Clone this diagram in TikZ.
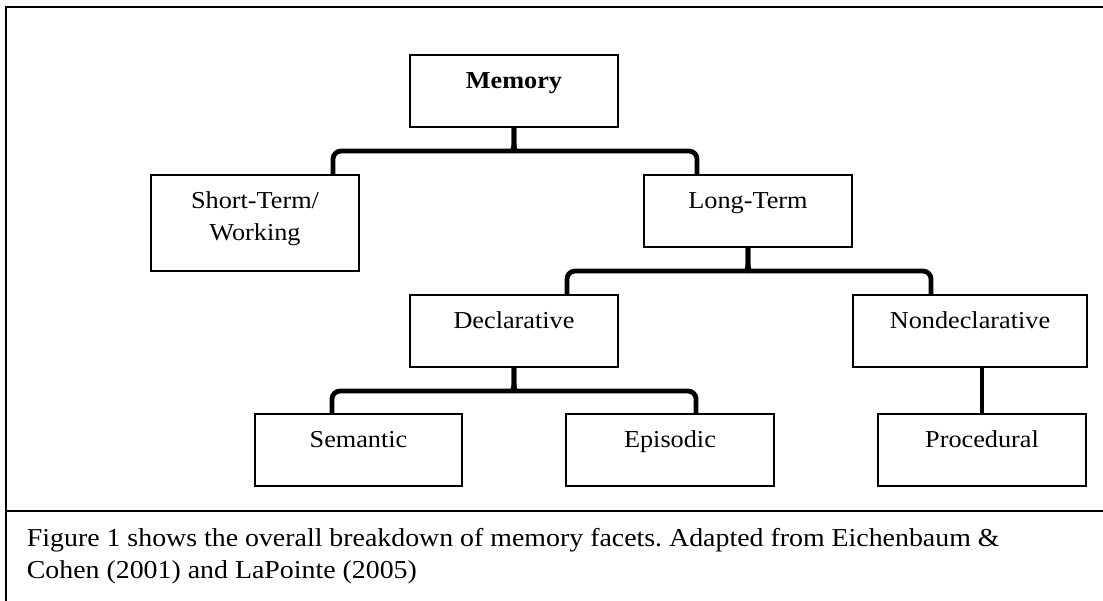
\documentclass[tikz,border=0pt]{standalone}
\usepackage{fontspec}
\setmainfont[FakeStretch=1.08]{Liberation Serif}
\usetikzlibrary{calc}
\frenchspacing
\tikzset{
  box/.style={draw, line width=2pt, inner sep=0pt, outer sep=0pt,
    minimum width=208pt, text height=33pt, text depth=39pt,
    font=\fontsize{24.3}{32}\selectfont, anchor=north west},
  brace/.style={line width=4.8pt, line cap=butt, line join=round},
  frame/.style={line width=2pt},
  caption/.style={inner sep=0pt, anchor=base west, font=\fontsize{25.8}{32}\selectfont},
}
\newcommand\halfbrace[3]{%
  \draw[brace] (#2) {[rounded corners=8pt] |- ($(#1.south)+(#3*8,24)$)}
    .. controls ($(#1.south)+(#3*2,24)$) and ($(#1.south)+(0,22)$) ..
    ($(#1.south)+(0,15)$) -- (#1.south);}
\begin{document}
\begin{tikzpicture}[x=1pt,y=-1pt]
\useasboundingbox (0,0) rectangle (1103,600);
\clip (0,0) rectangle (1103,600);
\draw[frame] (1110,6.7) -- (6,6.7) -- (6,610);
\draw[frame] (6,511) -- (1110,511);

\node[box] (mem) at (410,55) {\textbf{Memory}};
\node[box, text depth=63pt] (short) at (151,175)
  {\begin{tabular}[t]{@{}c@{}}Short-Term/\\Working\end{tabular}};
\node[box] (long) at (644,175) {Long-Term};
\node[box] (decl) at (410,295) {Declarative};
\node[box, minimum width=234pt] (nondecl) at (853,295) {Nondeclarative};
\node[box, minimum width=207pt] (sem) at (255,414) {Semantic};
\node[box] (epi) at (566,414) {Episodic};
\node[box] (proc) at (878,414) {Procedural};

\coordinate (b1l) at ($(short.north east)+(-26,0)$);
\coordinate (b1r) at ($(long.north west)+(53,0)$);
\coordinate (b2l) at ($(decl.north west)+(157,0)$);
\coordinate (b2r) at ($(nondecl.north west)+(78,0)$);
\coordinate (b3l) at ($(sem.north west)+(77,0)$);
\coordinate (b3r) at ($(epi.north west)+(130,0)$);

\halfbrace{mem}{b1l}{-1}
\halfbrace{mem}{b1r}{1}
\halfbrace{long}{b2l}{-1}
\halfbrace{long}{b2r}{1}
\halfbrace{decl}{b3l}{-1}
\halfbrace{decl}{b3r}{1}
\draw[brace] (nondecl.south -| proc.north) -- (proc.north);

\node[caption] (cap) at (26.7,546)
  {\begin{tabular}[t]{@{}l@{}}Figure 1 shows the overall breakdown of memory facets. Adapted from Eichenbaum \&\\Cohen (2001) and LaPointe (2005)\end{tabular}};
\end{tikzpicture}
\end{document}
